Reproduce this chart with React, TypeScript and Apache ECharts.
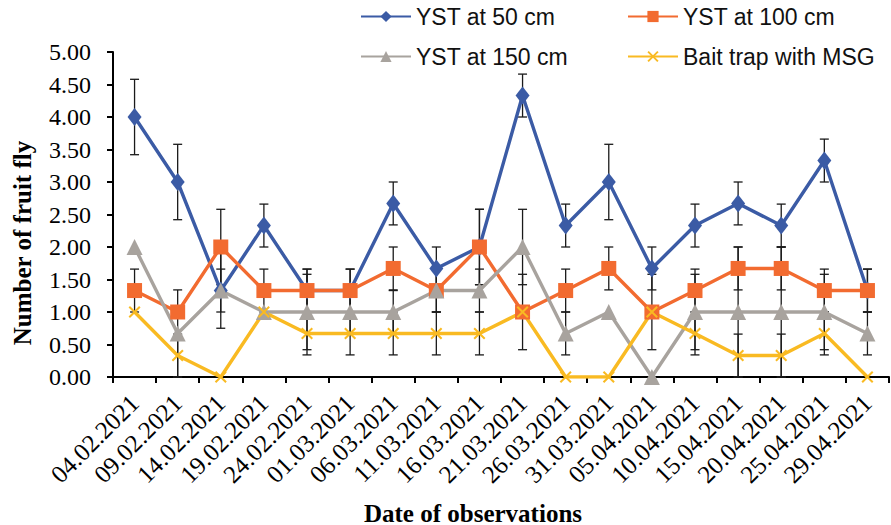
import React, { useEffect, useRef } from "react";
import * as echarts from "echarts";

const categories = [
  "04.02.2021", "09.02.2021", "14.02.2021", "19.02.2021", "24.02.2021", "01.03.2021",
  "06.03.2021", "11.03.2021", "16.03.2021", "21.03.2021", "26.03.2021", "31.03.2021",
  "05.04.2021", "10.04.2021", "15.04.2021", "20.04.2021", "25.04.2021", "29.04.2021",
];

const yst50 = [4.00, 3.00, 1.33, 2.33, 1.33, 1.33, 2.67, 1.67, 2.00, 4.33, 2.33, 3.00, 1.67, 2.33, 2.67, 2.33, 3.33, 1.33];
const err50 = [0.58, 0.58, 0.33, 0.33, 0.33, 0.33, 0.33, 0.33, 0.58, 0.33, 0.33, 0.58, 0.33, 0.33, 0.33, 0.33, 0.33, 0.33];

const yst100 = [1.33, 1.00, 2.00, 1.33, 1.33, 1.33, 1.67, 1.33, 2.00, 1.00, 1.33, 1.67, 1.00, 1.33, 1.67, 1.67, 1.33, 1.33];
const err100 = [0.33, 0.00, 0.58, 0.33, 0.33, 0.33, 0.33, 0.33, 0.58, 0.58, 0.33, 0.33, 0.58, 0.33, 0.33, 0.33, 0.33, 0.33];

const yst150 = [2.00, 0.67, 1.33, 1.00, 1.00, 1.00, 1.00, 1.33, 1.33, 2.00, 0.67, 1.00, 0.00, 1.00, 1.00, 1.00, 1.00, 0.67];
const err150 = [0.00, 0.67, 0.58, 0.00, 0.58, 0.33, 0.33, 0.33, 0.33, 0.58, 0.33, 0.00, 0.00, 0.58, 1.00, 1.00, 0.58, 0.33];

const bait = [1.00, 0.33, 0.00, 1.00, 0.67, 0.67, 0.67, 0.67, 0.67, 1.00, 0.00, 0.00, 1.00, 0.67, 0.33, 0.33, 0.67, 0.00];
const errBait = [0.00, 0.33, 0.00, 0.00, 0.33, 0.33, 0.33, 0.33, 0.33, 0.00, 0.00, 0.00, 0.00, 0.33, 0.33, 0.33, 0.33, 0.00];

const yTicks = [0, 0.5, 1, 1.5, 2, 2.5, 3, 3.5, 4, 4.5, 5];

const seriesNames = ["YST at 50 cm", "YST at 100 cm", "YST at 150 cm", "Bait trap with MSG"];
const colors = ["#3B5BA5", "#F26B30", "#A8A39E", "#F9BA22"];
const yTitle = "Number of fruit fly";
const xTitle = "Date of observations";

const crossPath =
  "path://M0,1.2 L1.2,0 L10,8.8 L8.8,10 Z M8.8,0 L10,1.2 L1.2,10 L0,8.8 Z";

function errorData(vals: number[], errs: number[]) {
  return vals
    .map((v, i) => [i, Math.max(0, v - errs[i]), v + errs[i]])
    .filter((d, i) => errs[i] > 0);
}

export default function App() {
  const ref = useRef<HTMLDivElement>(null);
  useEffect(() => {
    if (!ref.current) return;
    const chart = echarts.init(ref.current, undefined, { renderer: "svg" });
    const serif = "'Liberation Serif', 'Times New Roman', serif";
    const sans = "'Liberation Sans', Arial, sans-serif";

    const errorSeries = (vals: number[], errs: number[]) => ({
      type: "custom",
      z: 1,
      silent: true,
      data: errorData(vals, errs),
      encode: { x: 0, y: [1, 2] },
      renderItem: (params: any, api: any) => {
        const i = api.value(0);
        const lo = api.coord([i, api.value(1)]);
        const hi = api.coord([i, api.value(2)]);
        const hw = 4.5;
        const style = { stroke: "#1a1a1a", lineWidth: 1.3 };
        return {
          type: "group",
          children: [
            { type: "line", shape: { x1: lo[0], y1: lo[1], x2: hi[0], y2: hi[1] }, style },
            { type: "line", shape: { x1: hi[0] - hw, y1: hi[1], x2: hi[0] + hw, y2: hi[1] }, style },
            { type: "line", shape: { x1: lo[0] - hw, y1: lo[1], x2: lo[0] + hw, y2: lo[1] }, style },
          ],
        };
      },
    });

    const legendBase = {
      itemWidth: 50,
      itemHeight: 14,
      itemGap: 5,
      padding: 0,
      textStyle: { fontFamily: sans, fontSize: 23, color: "#111" },
    };

    const lineSeries = (name: string, data: number[], color: string, symbol: string, size: any) => ({
      name,
      type: "line",
      z: 3,
      data,
      symbol,
      symbolSize: size,
      lineStyle: { color, width: 3.4 },
      itemStyle: { color },
    });

    chart.setOption({
      animation: false,
      color: colors,
      grid: { left: 113, right: 2, top: 52, bottom: 148, containLabel: false, outerBoundsMode: "none" },
      legend: [
        { ...legendBase, data: [seriesNames[0]], left: 360, top: 5 },
        { ...legendBase, data: [seriesNames[1]], left: 627, top: 5 },
        { ...legendBase, data: [seriesNames[2]], left: 360, top: 45 },
        { ...legendBase, data: [seriesNames[3]], left: 627, top: 45 },
      ],
      graphic: [
        {
          type: "text",
          x: 22,
          y: 243,
          rotation: Math.PI / 2,
          style: {
            text: yTitle,
            fontFamily: serif,
            fontSize: 25,
            fontWeight: "bold",
            fill: "#000",
            align: "center",
            verticalAlign: "middle",
          },
        },
        {
          type: "text",
          x: 473,
          y: 513,
          style: {
            text: xTitle,
            fontFamily: serif,
            fontSize: 25,
            fontWeight: "bold",
            fill: "#000",
            align: "center",
            verticalAlign: "middle",
          },
        },
      ],
      xAxis: {
        type: "category",
        data: categories,
        boundaryGap: true,
        axisLine: { lineStyle: { color: "#000", width: 2 } },
        axisTick: { show: true, alignWithLabel: false, length: 6, lineStyle: { color: "#000", width: 2 } },
        axisLabel: { rotate: 45, fontFamily: serif, fontSize: 25, color: "#000", margin: 22, interval: 0 },
        splitLine: { show: false },
      },
      yAxis: {
        type: "value",
        min: yTicks[0],
        max: yTicks[yTicks.length - 1],
        interval: 0.5,
        axisLine: { show: true, lineStyle: { color: "#000", width: 2 } },
        axisTick: { show: true, length: 6, lineStyle: { color: "#000", width: 2 } },
        axisLabel: {
          fontFamily: serif,
          fontSize: 24,
          color: "#000",
          margin: 22,
          formatter: (v: number) => v.toFixed(2),
        },
        splitLine: { show: false },
      },
      series: [
        errorSeries(yst50, err50),
        errorSeries(yst100, err100),
        errorSeries(yst150, err150),
        errorSeries(bait, errBait),
        lineSeries(seriesNames[0], yst50, colors[0], "diamond", [14, 18]),
        lineSeries(seriesNames[1], yst100, colors[1], "rect", 15),
        lineSeries(seriesNames[2], yst150, colors[2], "triangle", 16),
        lineSeries(seriesNames[3], bait, colors[3], crossPath, 12),
      ],
    });
    return () => chart.dispose();
  }, []);
  return (
    <div
      ref={ref}
      style={{ position: "fixed", left: 0, top: 0, width: 891, height: 525, background: "#fff" }}
    />
  );
}
